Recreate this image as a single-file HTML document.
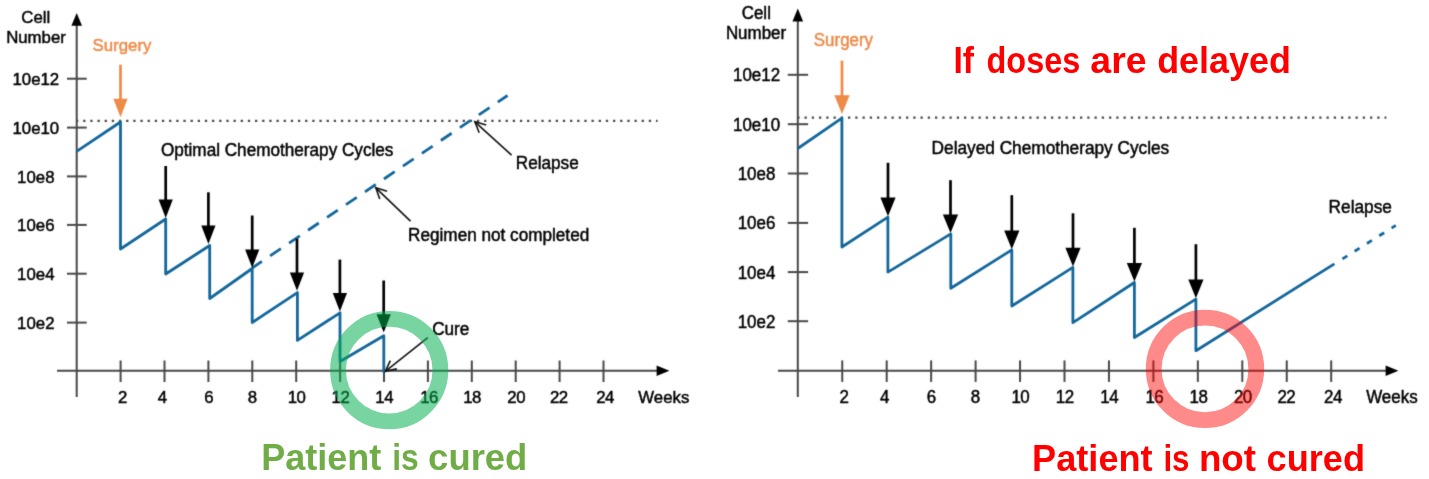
<!DOCTYPE html>
<html lang="en">
<head>
<meta charset="utf-8">
<title>Chemotherapy cycles: optimal vs delayed</title>
<style>
html,body{margin:0;padding:0;background:#fff;}
body{width:1429px;height:479px;overflow:hidden;}
svg{display:block;}
svg text{font-family:"Liberation Sans","DejaVu Sans",sans-serif;}
.big text{font-weight:bold;}
</style>
</head>
<body>
<svg width="1429" height="479" viewBox="0 0 1429 479">
<defs>
<filter id="soft" filterUnits="userSpaceOnUse" x="0" y="0" width="1429" height="479" color-interpolation-filters="sRGB">
<feConvolveMatrix order="3" kernelMatrix="0.02 0.09 0.02 0.09 0.56 0.09 0.02 0.09 0.02" divisor="1" edgeMode="duplicate" preserveAlpha="false"/>
</filter>
</defs>
<rect width="1429" height="479" fill="#fff"/>

<g id="left-chart" filter="url(#soft)">
<line x1="76.7" y1="23" x2="76.7" y2="397" stroke="#484848" stroke-width="2.0"/>
<polygon points="71.4,25.8 82,25.8 76.7,13" fill="#000"/>
<line x1="57" y1="370.8" x2="659.4" y2="370.8" stroke="#484848" stroke-width="2.0"/>
<polygon points="656.6,365.5 656.6,376.1 669.4,370.8" fill="#000"/>
<line x1="67" y1="78.7" x2="86.7" y2="78.7" stroke="#484848" stroke-width="2.0"/>
<text transform="translate(35.8 85.1) scale(1 1.03)" font-size="16.8" fill="#000" text-anchor="middle" stroke="#000" stroke-width="0.45">10e12</text>
<line x1="67" y1="127.6" x2="86.7" y2="127.6" stroke="#484848" stroke-width="2.0"/>
<text transform="translate(35.8 134) scale(1 1.03)" font-size="16.8" fill="#000" text-anchor="middle" stroke="#000" stroke-width="0.45">10e10</text>
<line x1="67" y1="176.4" x2="86.7" y2="176.4" stroke="#484848" stroke-width="2.0"/>
<text transform="translate(35.8 182.8) scale(1 1.03)" font-size="16.8" fill="#000" text-anchor="middle" stroke="#000" stroke-width="0.45">10e8</text>
<line x1="67" y1="224.9" x2="86.7" y2="224.9" stroke="#484848" stroke-width="2.0"/>
<text transform="translate(35.8 231.3) scale(1 1.03)" font-size="16.8" fill="#000" text-anchor="middle" stroke="#000" stroke-width="0.45">10e6</text>
<line x1="67" y1="273.7" x2="86.7" y2="273.7" stroke="#484848" stroke-width="2.0"/>
<text transform="translate(35.8 280.1) scale(1 1.03)" font-size="16.8" fill="#000" text-anchor="middle" stroke="#000" stroke-width="0.45">10e4</text>
<line x1="67" y1="322.6" x2="86.7" y2="322.6" stroke="#484848" stroke-width="2.0"/>
<text transform="translate(35.8 329) scale(1 1.03)" font-size="16.8" fill="#000" text-anchor="middle" stroke="#000" stroke-width="0.45">10e2</text>
<line x1="120.6" y1="360.5" x2="120.6" y2="382" stroke="#484848" stroke-width="2.0"/>
<line x1="164.5" y1="360.5" x2="164.5" y2="382" stroke="#484848" stroke-width="2.0"/>
<line x1="208.4" y1="360.5" x2="208.4" y2="382" stroke="#484848" stroke-width="2.0"/>
<line x1="252.3" y1="360.5" x2="252.3" y2="382" stroke="#484848" stroke-width="2.0"/>
<line x1="296.2" y1="360.5" x2="296.2" y2="382" stroke="#484848" stroke-width="2.0"/>
<line x1="340.1" y1="360.5" x2="340.1" y2="382" stroke="#484848" stroke-width="2.0"/>
<line x1="384" y1="360.5" x2="384" y2="382" stroke="#484848" stroke-width="2.0"/>
<line x1="427.9" y1="360.5" x2="427.9" y2="382" stroke="#484848" stroke-width="2.0"/>
<line x1="471.8" y1="360.5" x2="471.8" y2="382" stroke="#484848" stroke-width="2.0"/>
<line x1="515.7" y1="360.5" x2="515.7" y2="382" stroke="#484848" stroke-width="2.0"/>
<line x1="559.6" y1="360.5" x2="559.6" y2="382" stroke="#484848" stroke-width="2.0"/>
<line x1="603.5" y1="360.5" x2="603.5" y2="382" stroke="#484848" stroke-width="2.0"/>
<text transform="translate(122.6 403) scale(1 1.03)" font-size="16.8" fill="#000" text-anchor="middle" stroke="#000" stroke-width="0.45">2</text>
<text transform="translate(162.5 403) scale(1 1.03)" font-size="16.8" fill="#000" text-anchor="middle" stroke="#000" stroke-width="0.45">4</text>
<text transform="translate(208.9 403) scale(1 1.03)" font-size="16.8" fill="#000" text-anchor="middle" stroke="#000" stroke-width="0.45">6</text>
<text transform="translate(252.3 403) scale(1 1.03)" font-size="16.8" fill="#000" text-anchor="middle" stroke="#000" stroke-width="0.45">8</text>
<text transform="translate(296.55 403) scale(1 1.03)" font-size="16.8" fill="#000" text-anchor="middle" letter-spacing="-0.5" stroke="#000" stroke-width="0.45">10</text>
<text transform="translate(340.45 403) scale(1 1.03)" font-size="16.8" fill="#000" text-anchor="middle" letter-spacing="-0.5" stroke="#000" stroke-width="0.45">12</text>
<text transform="translate(384.15 403) scale(1 1.03)" font-size="16.8" fill="#000" text-anchor="middle" letter-spacing="-0.5" stroke="#000" stroke-width="0.45">14</text>
<text transform="translate(429.05 403) scale(1 1.03)" font-size="16.8" fill="#000" text-anchor="middle" letter-spacing="-0.5" stroke="#000" stroke-width="0.45">16</text>
<text transform="translate(472.05 403) scale(1 1.03)" font-size="16.8" fill="#000" text-anchor="middle" letter-spacing="-0.5" stroke="#000" stroke-width="0.45">18</text>
<text transform="translate(516.15 403) scale(1 1.03)" font-size="16.8" fill="#000" text-anchor="middle" letter-spacing="-0.5" stroke="#000" stroke-width="0.45">20</text>
<text transform="translate(558.85 403) scale(1 1.03)" font-size="16.8" fill="#000" text-anchor="middle" letter-spacing="-0.5" stroke="#000" stroke-width="0.45">22</text>
<text transform="translate(605.05 403) scale(1 1.03)" font-size="16.8" fill="#000" text-anchor="middle" letter-spacing="-0.5" stroke="#000" stroke-width="0.45">24</text>
<text transform="translate(638.3 403) scale(1 1.03)" font-size="16.8" fill="#000" text-anchor="start" stroke="#000" stroke-width="0.45">Weeks</text>
<text transform="translate(35.8 23.3) scale(1 1.03)" font-size="16.8" fill="#000" text-anchor="middle" stroke="#000" stroke-width="0.45">Cell</text>
<text transform="translate(36 42.8) scale(1 1.03)" font-size="16.8" fill="#000" text-anchor="middle" stroke="#000" stroke-width="0.45">Number</text>
<line x1="75.99" y1="120.8" x2="657.6" y2="120.8" stroke="#4a4a4a" stroke-width="2.2" stroke-dasharray="2.3 4.86"/>
<polyline points="76.7,151.4 120.5,122 120.5,249 165.7,219 165.7,274 209.7,245.5 209.7,298.5 252.2,268.5 252.2,322.5 297.4,292.6 297.4,340.4 340,312.8 340,361.5 383.8,335.8 383.8,372.3" fill="none" stroke="#13679b" stroke-width="2.8" stroke-linejoin="round"/>
<line x1="252.2" y1="268" x2="507.5" y2="95.5" stroke="#13679b" stroke-width="2.8" stroke-dasharray="13 9.9" stroke-dashoffset="1.3"/>
<text transform="translate(92.6 51.4) scale(1 1.03)" font-size="16.8" fill="#ef8a47" text-anchor="start" stroke="#ef8a47" stroke-width="0.45">Surgery</text>
<line x1="120.5" y1="64.7" x2="120.5" y2="99.8" stroke="#ef8a47" stroke-width="2.7"/>
<polygon points="113.4,98.8 127.6,98.8 120.5,117.2" fill="#ef8a47"/>
<line x1="165.7" y1="166" x2="165.7" y2="200.6" stroke="#000" stroke-width="2.7"/>
<polygon points="158.6,199.6 172.8,199.6 165.7,218" fill="#000"/>
<line x1="208.4" y1="192.3" x2="208.4" y2="226.6" stroke="#000" stroke-width="2.7"/>
<polygon points="201.3,225.6 215.5,225.6 208.4,244" fill="#000"/>
<line x1="252.2" y1="215.5" x2="252.2" y2="250.4" stroke="#000" stroke-width="2.7"/>
<polygon points="245.1,249.4 259.3,249.4 252.2,267.8" fill="#000"/>
<line x1="297" y1="238.8" x2="297" y2="273.4" stroke="#000" stroke-width="2.7"/>
<polygon points="289.9,272.4 304.1,272.4 297,290.8" fill="#000"/>
<line x1="339.9" y1="259.6" x2="339.9" y2="294" stroke="#000" stroke-width="2.7"/>
<polygon points="332.8,293 347,293 339.9,311.4" fill="#000"/>
<line x1="383.7" y1="280.5" x2="383.7" y2="315.2" stroke="#000" stroke-width="2.7"/>
<polygon points="376.6,314.2 390.8,314.2 383.7,332.6" fill="#000"/>
<text transform="translate(160.9 155.6) scale(1 1.03)" font-size="17.17" fill="#000" text-anchor="start" stroke="#000" stroke-width="0.45">Optimal Chemotherapy Cycles</text>
<text transform="translate(515.8 168.6) scale(1 1.03)" font-size="17.17" fill="#000" text-anchor="start" stroke="#000" stroke-width="0.45">Relapse</text>
<text transform="translate(408.1 241.1) scale(1 1.03)" font-size="17.17" fill="#000" text-anchor="start" stroke="#000" stroke-width="0.45">Regimen not completed</text>
<text transform="translate(432.2 334.6) scale(1 1.03)" font-size="17.17" fill="#000" text-anchor="start" stroke="#000" stroke-width="0.45">Cure</text>
<line x1="511.6" y1="155.2" x2="474.9" y2="121.8" stroke="#111" stroke-width="1.6"/>
<polyline points="486.25,125.01 474.9,121.8 479.17,132.8" fill="none" stroke="#111" stroke-width="1.6"/>
<line x1="410.5" y1="221.2" x2="375.8" y2="187.8" stroke="#111" stroke-width="1.6"/>
<polyline points="387.06,191.33 375.8,187.8 379.76,198.92" fill="none" stroke="#111" stroke-width="1.6"/>
<line x1="427.8" y1="337.6" x2="385.3" y2="371.3" stroke="#111" stroke-width="1.6"/>
<polyline points="390.3,360.61 385.3,371.3 396.85,368.86" fill="none" stroke="#111" stroke-width="1.6"/>
</g>
<circle cx="389.2" cy="370.1" r="51.2" fill="none" stroke="#00ae4e" stroke-opacity="0.53" stroke-width="15.8"/>
<g id="right-chart" filter="url(#soft)">
<line x1="797.8" y1="18.6" x2="797.8" y2="397" stroke="#484848" stroke-width="2.0"/>
<polygon points="792.5,21.4 803.1,21.4 797.8,8.6" fill="#000"/>
<line x1="778" y1="370.7" x2="1388.4" y2="370.7" stroke="#484848" stroke-width="2.0"/>
<polygon points="1385.6,365.4 1385.6,376 1398.4,370.7" fill="#000"/>
<line x1="787.8" y1="74.8" x2="808.1" y2="74.8" stroke="#484848" stroke-width="2.0"/>
<text transform="translate(756.5 81.2) scale(1 1.03)" font-size="16.95" fill="#000" text-anchor="middle" stroke="#000" stroke-width="0.45">10e12</text>
<line x1="787.8" y1="124.2" x2="808.1" y2="124.2" stroke="#484848" stroke-width="2.0"/>
<text transform="translate(756.5 130.6) scale(1 1.03)" font-size="16.95" fill="#000" text-anchor="middle" stroke="#000" stroke-width="0.45">10e10</text>
<line x1="787.8" y1="173.5" x2="808.1" y2="173.5" stroke="#484848" stroke-width="2.0"/>
<text transform="translate(756.5 179.9) scale(1 1.03)" font-size="16.95" fill="#000" text-anchor="middle" stroke="#000" stroke-width="0.45">10e8</text>
<line x1="787.8" y1="222.9" x2="808.1" y2="222.9" stroke="#484848" stroke-width="2.0"/>
<text transform="translate(756.5 229.3) scale(1 1.03)" font-size="16.95" fill="#000" text-anchor="middle" stroke="#000" stroke-width="0.45">10e6</text>
<line x1="787.8" y1="272.1" x2="808.1" y2="272.1" stroke="#484848" stroke-width="2.0"/>
<text transform="translate(756.5 278.5) scale(1 1.03)" font-size="16.95" fill="#000" text-anchor="middle" stroke="#000" stroke-width="0.45">10e4</text>
<line x1="787.8" y1="321.2" x2="808.1" y2="321.2" stroke="#484848" stroke-width="2.0"/>
<text transform="translate(756.5 327.6) scale(1 1.03)" font-size="16.95" fill="#000" text-anchor="middle" stroke="#000" stroke-width="0.45">10e2</text>
<line x1="842.25" y1="360.4" x2="842.25" y2="381.9" stroke="#484848" stroke-width="2.0"/>
<line x1="886.7" y1="360.4" x2="886.7" y2="381.9" stroke="#484848" stroke-width="2.0"/>
<line x1="931.15" y1="360.4" x2="931.15" y2="381.9" stroke="#484848" stroke-width="2.0"/>
<line x1="975.6" y1="360.4" x2="975.6" y2="381.9" stroke="#484848" stroke-width="2.0"/>
<line x1="1020.05" y1="360.4" x2="1020.05" y2="381.9" stroke="#484848" stroke-width="2.0"/>
<line x1="1064.5" y1="360.4" x2="1064.5" y2="381.9" stroke="#484848" stroke-width="2.0"/>
<line x1="1108.95" y1="360.4" x2="1108.95" y2="381.9" stroke="#484848" stroke-width="2.0"/>
<line x1="1153.4" y1="360.4" x2="1153.4" y2="381.9" stroke="#484848" stroke-width="2.0"/>
<line x1="1197.85" y1="360.4" x2="1197.85" y2="381.9" stroke="#484848" stroke-width="2.0"/>
<line x1="1242.3" y1="360.4" x2="1242.3" y2="381.9" stroke="#484848" stroke-width="2.0"/>
<line x1="1286.75" y1="360.4" x2="1286.75" y2="381.9" stroke="#484848" stroke-width="2.0"/>
<line x1="1331.2" y1="360.4" x2="1331.2" y2="381.9" stroke="#484848" stroke-width="2.0"/>
<text transform="translate(844.2 402.9) scale(1 1.03)" font-size="16.95" fill="#000" text-anchor="middle" stroke="#000" stroke-width="0.45">2</text>
<text transform="translate(884.6 402.9) scale(1 1.03)" font-size="16.95" fill="#000" text-anchor="middle" stroke="#000" stroke-width="0.45">4</text>
<text transform="translate(931.4 402.9) scale(1 1.03)" font-size="16.95" fill="#000" text-anchor="middle" stroke="#000" stroke-width="0.45">6</text>
<text transform="translate(975.5 402.9) scale(1 1.03)" font-size="16.95" fill="#000" text-anchor="middle" stroke="#000" stroke-width="0.45">8</text>
<text transform="translate(1020.35 402.9) scale(1 1.03)" font-size="16.95" fill="#000" text-anchor="middle" letter-spacing="-0.5" stroke="#000" stroke-width="0.45">10</text>
<text transform="translate(1064.75 402.9) scale(1 1.03)" font-size="16.95" fill="#000" text-anchor="middle" letter-spacing="-0.5" stroke="#000" stroke-width="0.45">12</text>
<text transform="translate(1109.15 402.9) scale(1 1.03)" font-size="16.95" fill="#000" text-anchor="middle" letter-spacing="-0.5" stroke="#000" stroke-width="0.45">14</text>
<text transform="translate(1154.35 402.9) scale(1 1.03)" font-size="16.95" fill="#000" text-anchor="middle" letter-spacing="-0.5" stroke="#000" stroke-width="0.45">16</text>
<text transform="translate(1198.45 402.9) scale(1 1.03)" font-size="16.95" fill="#000" text-anchor="middle" letter-spacing="-0.5" stroke="#000" stroke-width="0.45">18</text>
<text transform="translate(1242.85 402.9) scale(1 1.03)" font-size="16.95" fill="#000" text-anchor="middle" letter-spacing="-0.5" stroke="#000" stroke-width="0.45">20</text>
<text transform="translate(1286.35 402.9) scale(1 1.03)" font-size="16.95" fill="#000" text-anchor="middle" letter-spacing="-0.5" stroke="#000" stroke-width="0.45">22</text>
<text transform="translate(1332.95 402.9) scale(1 1.03)" font-size="16.95" fill="#000" text-anchor="middle" letter-spacing="-0.5" stroke="#000" stroke-width="0.45">24</text>
<text transform="translate(1366.2 402.6) scale(1 1.03)" font-size="16.95" fill="#000" text-anchor="start" stroke="#000" stroke-width="0.45">Weeks</text>
<text transform="translate(756.3 18.8) scale(1 1.03)" font-size="16.95" fill="#000" text-anchor="middle" stroke="#000" stroke-width="0.45">Cell</text>
<text transform="translate(756 39) scale(1 1.03)" font-size="16.95" fill="#000" text-anchor="middle" stroke="#000" stroke-width="0.45">Number</text>
<line x1="797.25" y1="117.6" x2="1386.4" y2="117.6" stroke="#4a4a4a" stroke-width="2.2" stroke-dasharray="2.3 4.95"/>
<polyline points="797.8,148.5 841.9,118.1 841.9,247 887.9,217.1 887.9,272.1 950.8,233.9 950.8,288.3 1011.8,249.9 1011.8,306 1072.9,267.4 1072.9,322.7 1134.4,282.5 1134.4,337.5 1195.9,299.1 1195.9,350.7 1334.4,263.9" fill="none" stroke="#13679b" stroke-width="2.8" stroke-linejoin="round"/>
<line x1="1342.4" y1="258.9" x2="1395.8" y2="225.4" stroke="#13679b" stroke-width="2.8" stroke-dasharray="5.8 8.7"/>
<text transform="translate(813.8 46.4) scale(1 1.03)" font-size="16.95" fill="#ef8a47" text-anchor="start" stroke="#ef8a47" stroke-width="0.45">Surgery</text>
<line x1="842" y1="60.7" x2="842" y2="96.3" stroke="#ef8a47" stroke-width="2.7"/>
<polygon points="834.4,95.3 849.6,95.3 842,113.9" fill="#ef8a47"/>
<line x1="888" y1="162.8" x2="888" y2="198.6" stroke="#000" stroke-width="2.7"/>
<polygon points="880.4,197.6 895.6,197.6 888,216.2" fill="#000"/>
<line x1="950.5" y1="180.2" x2="950.5" y2="215.4" stroke="#000" stroke-width="2.7"/>
<polygon points="942.9,214.4 958.1,214.4 950.5,233" fill="#000"/>
<line x1="1011.8" y1="195.2" x2="1011.8" y2="231.6" stroke="#000" stroke-width="2.7"/>
<polygon points="1004.2,230.6 1019.4,230.6 1011.8,249.2" fill="#000"/>
<line x1="1073" y1="213.3" x2="1073" y2="248.8" stroke="#000" stroke-width="2.7"/>
<polygon points="1065.4,247.8 1080.6,247.8 1073,266.4" fill="#000"/>
<line x1="1134.4" y1="227.8" x2="1134.4" y2="263.9" stroke="#000" stroke-width="2.7"/>
<polygon points="1126.8,262.9 1142,262.9 1134.4,281.5" fill="#000"/>
<line x1="1195.9" y1="244.2" x2="1195.9" y2="280.6" stroke="#000" stroke-width="2.7"/>
<polygon points="1188.3,279.6 1203.5,279.6 1195.9,298.2" fill="#000"/>
<text transform="translate(931.6 153.5) scale(1 1.03)" font-size="17.25" fill="#000" text-anchor="start" stroke="#000" stroke-width="0.45">Delayed Chemotherapy Cycles</text>
<text transform="translate(1328.6 212.8) scale(1 1.03)" font-size="17.25" fill="#000" text-anchor="start" stroke="#000" stroke-width="0.45">Relapse</text>
</g>
<circle cx="1205" cy="368.9" r="51.3" fill="none" stroke="#ff0000" stroke-opacity="0.46" stroke-width="15.8"/>
<g class="big">
<text x="261.29" y="470.4" font-size="36" fill="#70ad47" textLength="120.02" lengthAdjust="spacingAndGlyphs">Patient</text>
<text x="392.18" y="470.4" font-size="36" fill="#70ad47" textLength="26.55" lengthAdjust="spacingAndGlyphs">is</text>
<text x="428.14" y="470.4" font-size="36" fill="#70ad47" textLength="99.2" lengthAdjust="spacingAndGlyphs">cured</text>
<text x="953.44" y="72.6" font-size="36" fill="#ff0000" textLength="20.56" lengthAdjust="spacingAndGlyphs">If</text>
<text x="986.51" y="72.6" font-size="36" fill="#ff0000" textLength="93.78" lengthAdjust="spacingAndGlyphs">doses</text>
<text x="1090.39" y="72.6" font-size="36" fill="#ff0000" textLength="56.27" lengthAdjust="spacingAndGlyphs">are</text>
<text x="1157.16" y="72.6" font-size="36" fill="#ff0000" textLength="133.71" lengthAdjust="spacingAndGlyphs">delayed</text>
<text x="1032.14" y="471.3" font-size="36" fill="#ff0000" textLength="120.52" lengthAdjust="spacingAndGlyphs">Patient</text>
<text x="1163.41" y="471.3" font-size="36" fill="#ff0000" textLength="26.1" lengthAdjust="spacingAndGlyphs">is</text>
<text x="1198.92" y="471.3" font-size="36" fill="#ff0000" textLength="57.11" lengthAdjust="spacingAndGlyphs">not</text>
<text x="1266.64" y="471.3" font-size="36" fill="#ff0000" textLength="98.41" lengthAdjust="spacingAndGlyphs">cured</text>
</g>
</svg>
</body>
</html>
